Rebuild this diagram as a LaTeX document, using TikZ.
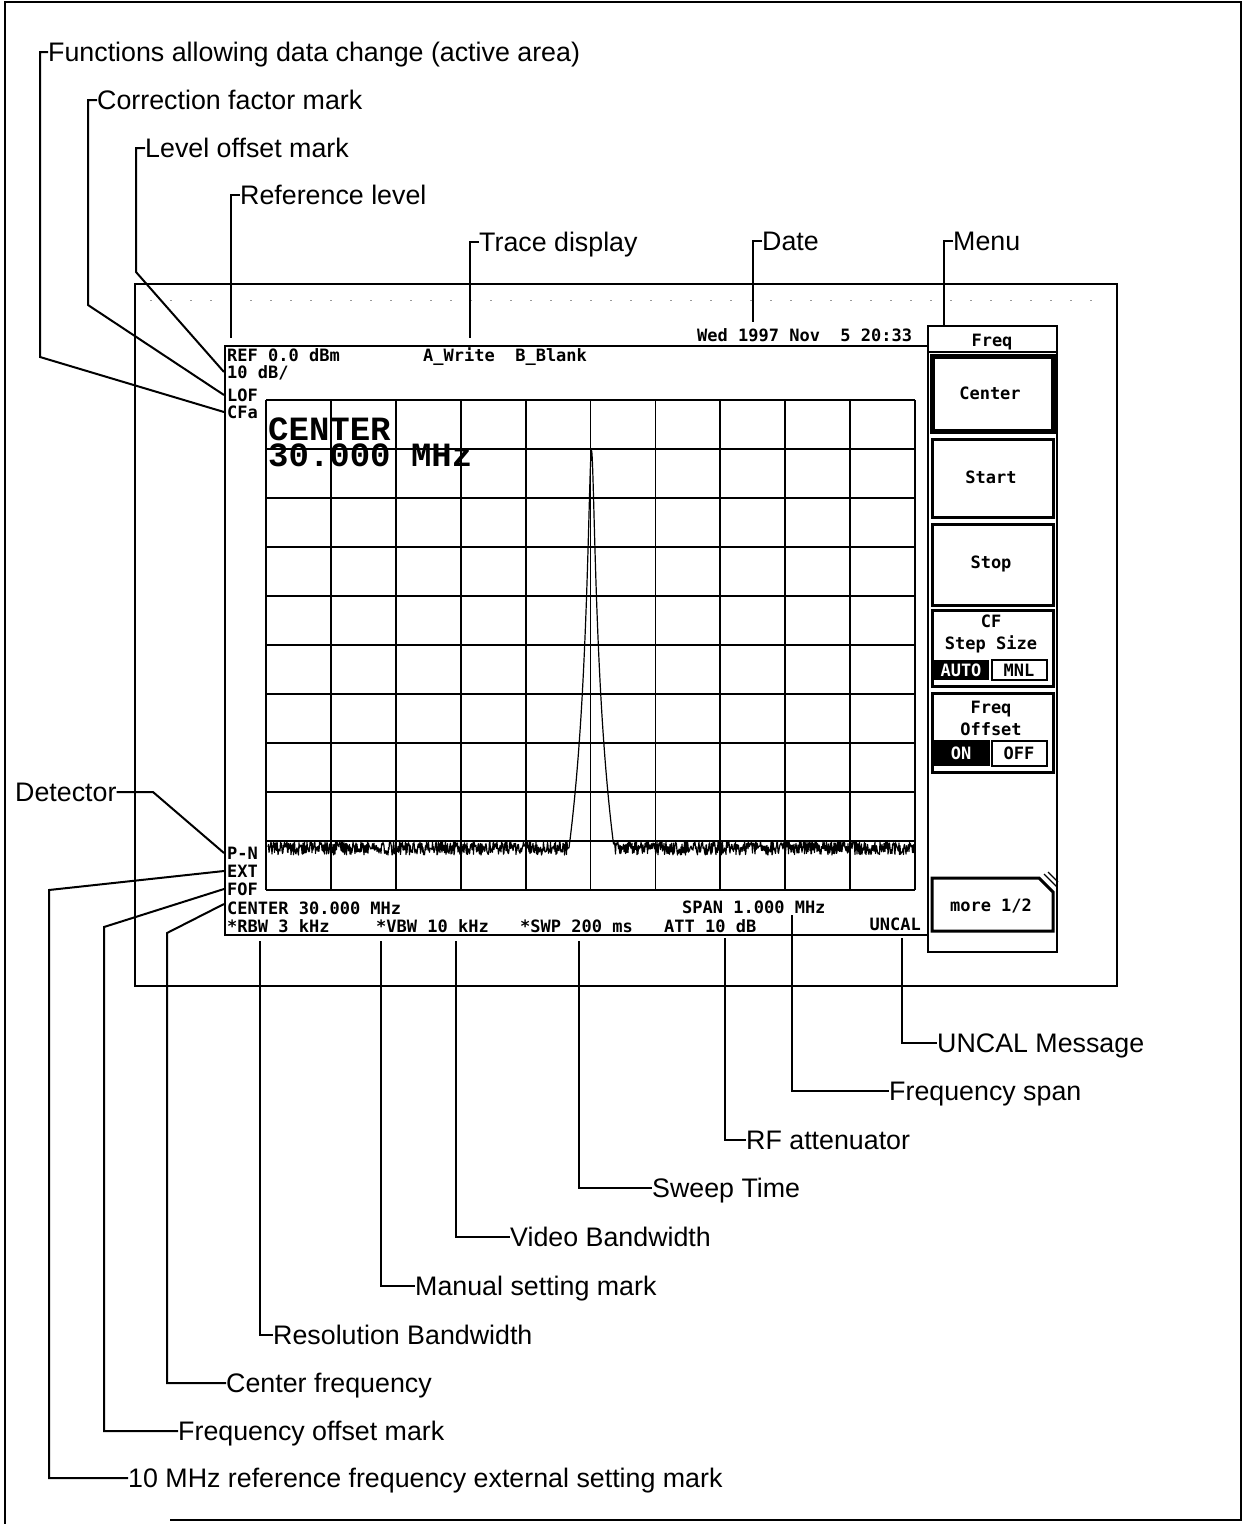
\documentclass[tikz,border=0pt]{standalone}
\usepackage{fontspec}
\setmainfont{Liberation Sans}
\newfontfamily\scrfont{DejaVu Sans Mono}
\newfontfamily\bigscrfont{Liberation Mono}
\begin{document}
\begin{tikzpicture}[x=1pt,y=-1pt,
  lbl/.style={font=\fontsize{26.8}{30}\selectfont, anchor=west, inner sep=0pt, text height=19pt, text depth=0pt},
  scr/.style={font=\scrfont\bfseries\fontsize{17}{18}\selectfont, anchor=west, inner sep=0pt, text height=12pt, text depth=0pt},
  btn/.style={font=\scrfont\bfseries\fontsize{17}{18}\selectfont, inner sep=0pt, text height=12pt, text depth=0pt},
  bigscr/.style={font=\bigscrfont\bfseries\fontsize{34}{26}\selectfont, anchor=north west, align=left, inner sep=0pt},
  lead/.style={line width=2pt},
  grd/.style={line width=1.8pt},
  frame/.style={line width=2.5pt},
  ]
\useasboundingbox (0,0) rectangle (1243,1524);

% outer frame
\draw[line width=2pt] (170,1520) -- (1241,1520) -- (1241,2) -- (5,2) -- (5,1524);

% instrument screen frame
\draw[frame] (135,284) rectangle (1117,986);
\draw[black!40, line width=0.8pt, dash pattern=on 2pt off 18pt] (150,300) -- (1100,300);

% display box
\draw[line width=1.8pt] (928,346) -- (225,346) -- (225,935) -- (928,935);

% graticule
\foreach \i in {0,...,10} {
  \draw[grd] ({266+64.9*\i},400) -- ({266+64.9*\i},890);
  \draw[grd] (266,{400+49*\i}) -- (915,{400+49*\i});
}

% trace
\draw[line width=1.2pt, line join=round] plot[samples=1293, domain=268:914, variable=\t]
  (\t, {min(848+7*rand, 450+89*ln(1+(min(abs(\t-591.5),150)/2.42)^2))});

% screen texts
\node[scr] (sREF) at (227,355) {REF 0.0 dBm};
\node[scr] (sDB) at (227,372) {10 dB/};
\node[scr] (sLOF) at (227,395) {LOF};
\node[scr] (sCFa) at (227,412) {CFa};
\node[scr] (sTrace) at (423,355) {A\_Write~~B\_Blank};
\node[scr] (sDate) at (697,335) {Wed 1997 Nov~~5 20:33};
\node[bigscr] (sBig) at (268,418) {CENTER\\30.000 MHz};
\node[scr] (sPN) at (227,853) {P-N};
\node[scr] (sEXT) at (227,871) {EXT};
\node[scr] (sFOF) at (227,889) {FOF};
\node[scr] (sCen) at (227,908) {CENTER 30.000 MHz};
\node[scr] (sRBW) at (227,926) {*RBW 3 kHz};
\node[scr] (sVBW) at (376,926) {*VBW 10 kHz};
\node[scr] (sSWP) at (520,926) {*SWP 200 ms};
\node[scr] (sATT) at (664,926) {ATT 10 dB};
\node[scr] (sSPAN) at (682,907) {SPAN 1.000 MHz};
\node[scr, anchor=east] (sUNC) at (921,924) {UNCAL};

% menu
\draw[line width=1.5pt] (928,326) rectangle (1057,952);
\draw[line width=1.5pt] (928,352) -- (1057,352);
\node[btn] (mFreq) at (992,340) {Freq};
\draw[line width=5pt] (932,356) rectangle (1053,431);
\node[btn] (mCenter) at (990,393) {Center};
\draw[line width=3pt] (932,439) rectangle (1053,517);
\node[btn] (mStart) at (991,477) {Start};
\draw[line width=3pt] (932,524) rectangle (1053,605);
\node[btn] (mStop) at (991,562) {Stop};
\draw[line width=3pt] (932,610) rectangle (1053,686);
\node[btn] (mCF) at (991,621) {CF};
\node[btn] (mStep) at (991,643) {Step Size};
\fill (933,660) rectangle (989,680);
\draw[line width=2pt] (992,660) rectangle (1047,680);
\node[btn, text=white] (mAuto) at (961,670) {AUTO};
\node[btn] (mMnl) at (1019,670) {MNL};
\draw[line width=3pt] (932,693) rectangle (1053,772);
\node[btn] (mFreq2) at (991,707) {Freq};
\node[btn] (mOff) at (991,729) {Offset};
\fill (933,740) rectangle (990,766);
\draw[line width=2pt] (992,741) rectangle (1047,766);
\node[btn, text=white] (mOn) at (961,753) {ON};
\node[btn] (mOFF) at (1019,753) {OFF};
\draw[line width=3pt] (932,878) -- (1039,878) -- (1053,892) -- (1053,931) -- (932,931) -- cycle;
\draw[line width=1.2pt] (1044,874) -- (1057,887);
\draw[line width=1.2pt] (1048,872) -- (1058,882);
\node[btn] (mMore) at (991,905) {more 1/2};

% top labels
\node[lbl] (lFun) at (48,52) {Functions allowing data change (active area)};
\node[lbl] (lCor) at (97,100) {Correction factor mark};
\node[lbl] (lLev) at (145,148) {Level offset mark};
\node[lbl] (lRef) at (240,195) {Reference level};
\node[lbl] (lTr) at (479,242) {Trace display};
\node[lbl] (lDate) at (762,241) {Date};
\node[lbl] (lMenu) at (953,241) {Menu};
\coordinate (eRef) at (231,338);
\coordinate (eTr) at (470,338);
\coordinate (eDate) at (753,322);
\coordinate (eMenu) at (944,325);

\draw[lead] (lFun.west) -- (40,52) -- (40,357) -- ([xshift=-3pt]sCFa.west);
\draw[lead] (lCor.west) -- (88,100) -- (88,305) -- ([xshift=-3pt]sLOF.west);
\draw[lead] (lLev.west) -- (136,148) -- (136,272) -- ([xshift=-3pt]sDB.west);
\draw[lead] (lRef.west) -- (231,195) -- (eRef);
\draw[lead] (lTr.west) -- (470,242) -- (eTr);
\draw[lead] (lDate.west) -- (753,241) -- (eDate);
\draw[lead] (lMenu.west) -- (944,241) -- (eMenu);

% detector
\node[lbl] (lDet) at (15,792) {Detector};
\draw[lead] (lDet.east) -- (153,792) -- ([xshift=-3pt]sPN.west);

% bottom labels
\node[lbl] (l10) at (128,1478) {10 MHz reference frequency external setting mark};
\node[lbl] (lFof) at (178,1431) {Frequency offset mark};
\node[lbl] (lCen) at (226,1383) {Center frequency};
\node[lbl] (lRBW) at (273,1335) {Resolution Bandwidth};
\node[lbl] (lMan) at (415,1286) {Manual setting mark};
\node[lbl] (lVid) at (510,1237) {Video Bandwidth};
\node[lbl] (lSwp) at (652,1188) {Sweep Time};
\node[lbl] (lRF) at (746,1140) {RF attenuator};
\node[lbl] (lSpan) at (889,1091) {Frequency span};
\node[lbl] (lUnc) at (937,1043) {UNCAL Message};

\draw[lead] ([xshift=-3pt]sEXT.west) -- (49,890) |- (l10.west);
\draw[lead] ([xshift=-3pt]sFOF.west) -- (104,927) |- (lFof.west);
\draw[lead] ([xshift=-3pt,yshift=4pt]sCen.west) -- (167,933) |- (lCen.west);

\coordinate (pRBW) at (260,941);
\coordinate (pMan) at (381,941);
\coordinate (pVid) at (456,941);
\coordinate (pSwp) at (579,941);
\coordinate (pRF) at (725,938);
\coordinate (pSpan) at (792,915);
\coordinate (pUnc) at (902,938);
\draw[lead] (pRBW) |- (lRBW.west);
\draw[lead] (pMan) |- (lMan.west);
\draw[lead] (pVid) |- (lVid.west);
\draw[lead] (pSwp) |- (lSwp.west);
\draw[lead] (pRF) |- (lRF.west);
\draw[lead] (pSpan) |- (lSpan.west);
\draw[lead] (pUnc) |- (lUnc.west);
\end{tikzpicture}
\end{document}
